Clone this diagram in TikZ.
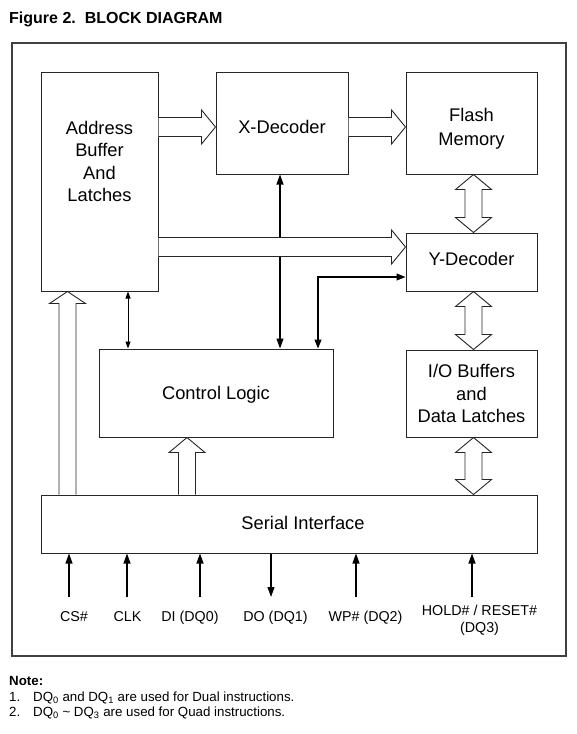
\documentclass[tikz,border=0pt]{standalone}
\usepackage{fontspec}
\setmainfont{Liberation Sans}
\usetikzlibrary{arrows.meta,calc}
% horizontal fat arrow: #1 start anchor, #2 end anchor, #3 y of centre line
\newcommand\fatRight[3]{%
  \draw[fatarrow] let \p1=(#1), \p2=(#2) in
    (\x1,#3+9.5) -- (\x2-14,#3+9.5) -- (\x2-14,#3+17) -- (\x2,#3)
    -- (\x2-14,#3-17) -- (\x2-14,#3-9.5) -- (\x1,#3-9.5);}
% vertical fat arrow up: #1 start anchor (bottom), #2 end anchor (top), #3 x, #4 head length
\newcommand\fatUp[4]{%
  \draw[fatarrow] let \p1=(#1), \p2=(#2) in
    (#3-8.5,\y1) -- (#3-8.5,\y2-#4) -- (#3-18,\y2-#4) -- (#3,\y2)
    -- (#3+18,\y2-#4) -- (#3+8.5,\y2-#4) -- (#3+8.5,\y1);}
% vertical double fat arrow: #1 upper anchor, #2 lower anchor, #3 x
\newcommand\fatBoth[3]{%
  \draw[fatarrow] let \p1=(#1), \p2=(#2) in
    (#3,\y1) -- (#3+18,\y1-15) -- (#3+8.5,\y1-15) -- (#3+8.5,\y2+15)
    -- (#3+18,\y2+15) -- (#3,\y2) -- (#3-18,\y2+15) -- (#3-8.5,\y2+15)
    -- (#3-8.5,\y1-15) -- (#3-18,\y1-15) -- cycle;}
\begin{document}
\begin{tikzpicture}[x=1pt,y=1pt,
  blk/.style={draw=black!85, line width=1pt, inner sep=0pt},
  blktext/.style={inner sep=0pt, align=center, font=\fontsize{18.3}{22.5}\selectfont},
  fatarrow/.style={draw=black!85, line width=0.9pt, fill=white, line join=miter},
  wire/.style={draw=black, line width=1.1pt},
  bigtip/.style={-{Triangle[length=10pt,width=7pt]}},
  pinlabel/.style={inner sep=0pt, align=center, font=\fontsize{14.3}{17}\selectfont},
  notetext/.style={inner sep=0pt, anchor=base west, font=\fontsize{13.3}{15}\selectfont},
]
\useasboundingbox (0,0) rectangle (577,-734);

% title
\node[inner sep=0pt, anchor=base west, font=\bfseries\fontsize{16}{19}\selectfont] (title) at (9,-23) {Figure 2.\ \ BLOCK DIAGRAM};

% outer frame
\draw[draw=black!75, line width=1.6pt] (12,-43) rectangle (566,-656);

% blocks
\node[blk, minimum width=117pt, minimum height=219pt] (addr) at (99.5,-181.5) {};
\node[blk, minimum width=132pt, minimum height=102pt] (xdec) at (282,-123) {};
\node[blk, minimum width=131pt, minimum height=102pt] (flash) at (471.5,-123) {};
\node[blk, minimum width=131pt, minimum height=58pt] (ydec) at (471.5,-262) {};
\node[blk, minimum width=131pt, minimum height=87pt] (io) at (471.5,-393.5) {};
\node[blk, minimum width=234pt, minimum height=88pt] (ctrl) at (216,-393) {};
\node[blk, minimum width=496pt, minimum height=58pt] (serial) at (289,-524) {};

% block texts
\node[blktext] (addrtext) at (99.5,-161.5) {Address\\Buffer\\And\\Latches};
\node[blktext, anchor=base] (xdectext) at (282,-133.6) {X-Decoder};
\node[blktext, font=\fontsize{18.3}{24}\selectfont] (flashtext) at (471.5,-128.8) {Flash\\Memory};
\node[blktext, anchor=base] (ydectext) at (471.5,-265.6) {Y-Decoder};
\node[blktext] (iotext) at (471.5,-393.5) {I/O Buffers\\and\\Data Latches};
\node[blktext, anchor=base] (ctrltext) at (216,-399.6) {Control Logic};
\node[blktext, anchor=base] (serialtext) at (303,-529.6) {Serial Interface};

% x positions of thin wires
\coordinate (wx) at (280,0);
\coordinate (wa) at (128,0);
\coordinate (wy) at (318,0);
\coordinate (wyc) at (318,-277);

% thin wires
\draw[wire, {Triangle[length=10pt,width=7pt]}-{Triangle[length=10pt,width=7pt]}] (ctrl.north -| wx) -- (xdec.south -| wx);
\draw[wire, line width=0.9pt, {Triangle[length=7pt,width=5pt]}-{Triangle[length=7pt,width=5pt]}] (addr.south -| wa) -- (ctrl.north -| wa);
\draw[wire, {Triangle[length=9pt,width=7pt]}-{Triangle[length=9pt,width=7pt]}] (ctrl.north -| wy) -- (wyc) -- (wyc -| ydec.west);

% fat arrows
\fatRight{addr.east}{xdec.west}{-127}
\fatRight{xdec.east}{flash.west}{-127}
\fatRight{addr.east}{ydec.west}{-247}
\fatUp{serial.north}{addr.south}{67.5}{12}
\fatUp{serial.north}{ctrl.south}{187}{15}
\fatBoth{flash.south}{ydec.north}{473.5}
\fatBoth{ydec.south}{io.north}{473.5}
\fatBoth{io.south}{serial.north}{473.5}

% pins
\coordinate (pcs) at (69,-597);
\coordinate (pclk) at (127,-597);
\coordinate (pdi) at (200,-597);
\coordinate (pdo) at (271,-597);
\coordinate (pwp) at (356,-597);
\coordinate (phold) at (472,-597);
\draw[wire, bigtip] (pcs) -- (pcs |- serial.south);
\draw[wire, bigtip] (pclk) -- (pclk |- serial.south);
\draw[wire, bigtip] (pdi) -- (pdi |- serial.south);
\draw[wire, bigtip] (pdo |- serial.south) -- (pdo);
\draw[wire, bigtip] (pwp) -- (pwp |- serial.south);
\draw[wire, bigtip] (phold) -- (phold |- serial.south);

\node[pinlabel, anchor=base] (lcs) at (74,-621) {CS\#};
\node[pinlabel, anchor=base] (lclk) at (127.5,-621) {CLK};
\node[pinlabel, anchor=base] (ldi) at (190,-621) {DI (DQ0)};
\node[pinlabel, anchor=base] (ldo) at (275.5,-621) {DO (DQ1)};
\node[pinlabel, anchor=base] (lwp) at (365.5,-621) {WP\# (DQ2)};
\node[pinlabel, anchor=center] (lhold) at (479.5,-620.5) {HOLD\# / RESET\#\\(DQ3)};

% notes
\node[notetext, font=\bfseries\fontsize{13.3}{15}\selectfont] (note) at (9,-685) {Note:};
\node[notetext] (n1) at (9,-701) {1.};
\node[notetext] (n1t) at (33,-701) {DQ\textsubscript{0} and DQ\textsubscript{1} are used for Dual instructions.};
\node[notetext] (n2) at (9,-716) {2.};
\node[notetext] (n2t) at (33,-716) {DQ\textsubscript{0} \textasciitilde{} DQ\textsubscript{3} are used for Quad instructions.};
\end{tikzpicture}
\end{document}
